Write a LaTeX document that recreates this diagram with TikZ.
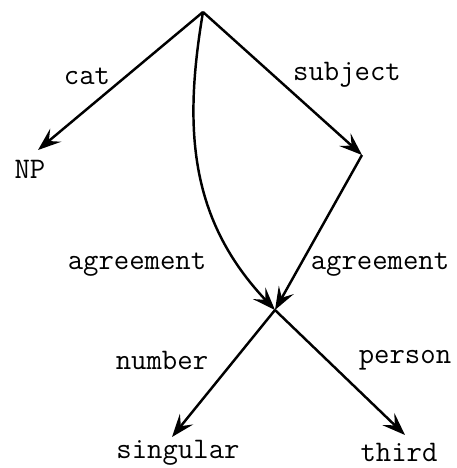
\documentclass[tikz,border=0pt]{standalone}
\usepackage{tikz}
\usetikzlibrary{arrows.meta, positioning}

\begin{document}
\begin{tikzpicture}[x=0.02cm, y=-0.02cm,
			arr/.style={-{Stealth[length=4.6mm, width=3.4mm, inset=1.8mm]}, line width=1.4pt},
			lbl/.style={font=\ttfamily\fontsize{17}{20}\selectfont, inner sep=0pt},
			val/.style={font=\ttfamily\fontsize{17}{20}\selectfont, inner sep=0pt}
			]
			\useasboundingbox (0,0) rectangle (457,468);
			\coordinate (root) at (203,12);
			\coordinate (np) at (38,150);
			\coordinate (subj) at (362,155);
			\coordinate (agr) at (275,310);
			\coordinate (sing) at (172,437);
			\coordinate (third) at (405,435);
			
			\node[val] (nptext) at (30,169) {NP};
			\node[val] (singtext) at (178,453) {singular};
			\node[val] (thirdtext) at (399,452) {third};
			
			\draw[arr] (root) -- (np);
			\draw[arr] (root) -- (subj);
			\draw[arr] (root) .. controls (183,130) and (190,220) .. (agr);
			\draw[arr] (subj) -- (agr);
			\draw[arr] (agr) -- (sing);
			\draw[arr] (agr) -- (third);
			
			\node[lbl] (cat) at (87,76) {cat};
			\node[lbl] (subjlbl) at (347,75) {subject};
			\node[lbl] (agrl) at (137,265) {agreement};
			\node[lbl] (agrr) at (380,265) {agreement};
			\node[lbl] (number) at (162,360) {number};
			\node[lbl] (person) at (405,360) {person};
	\end{tikzpicture}
\end{document}
